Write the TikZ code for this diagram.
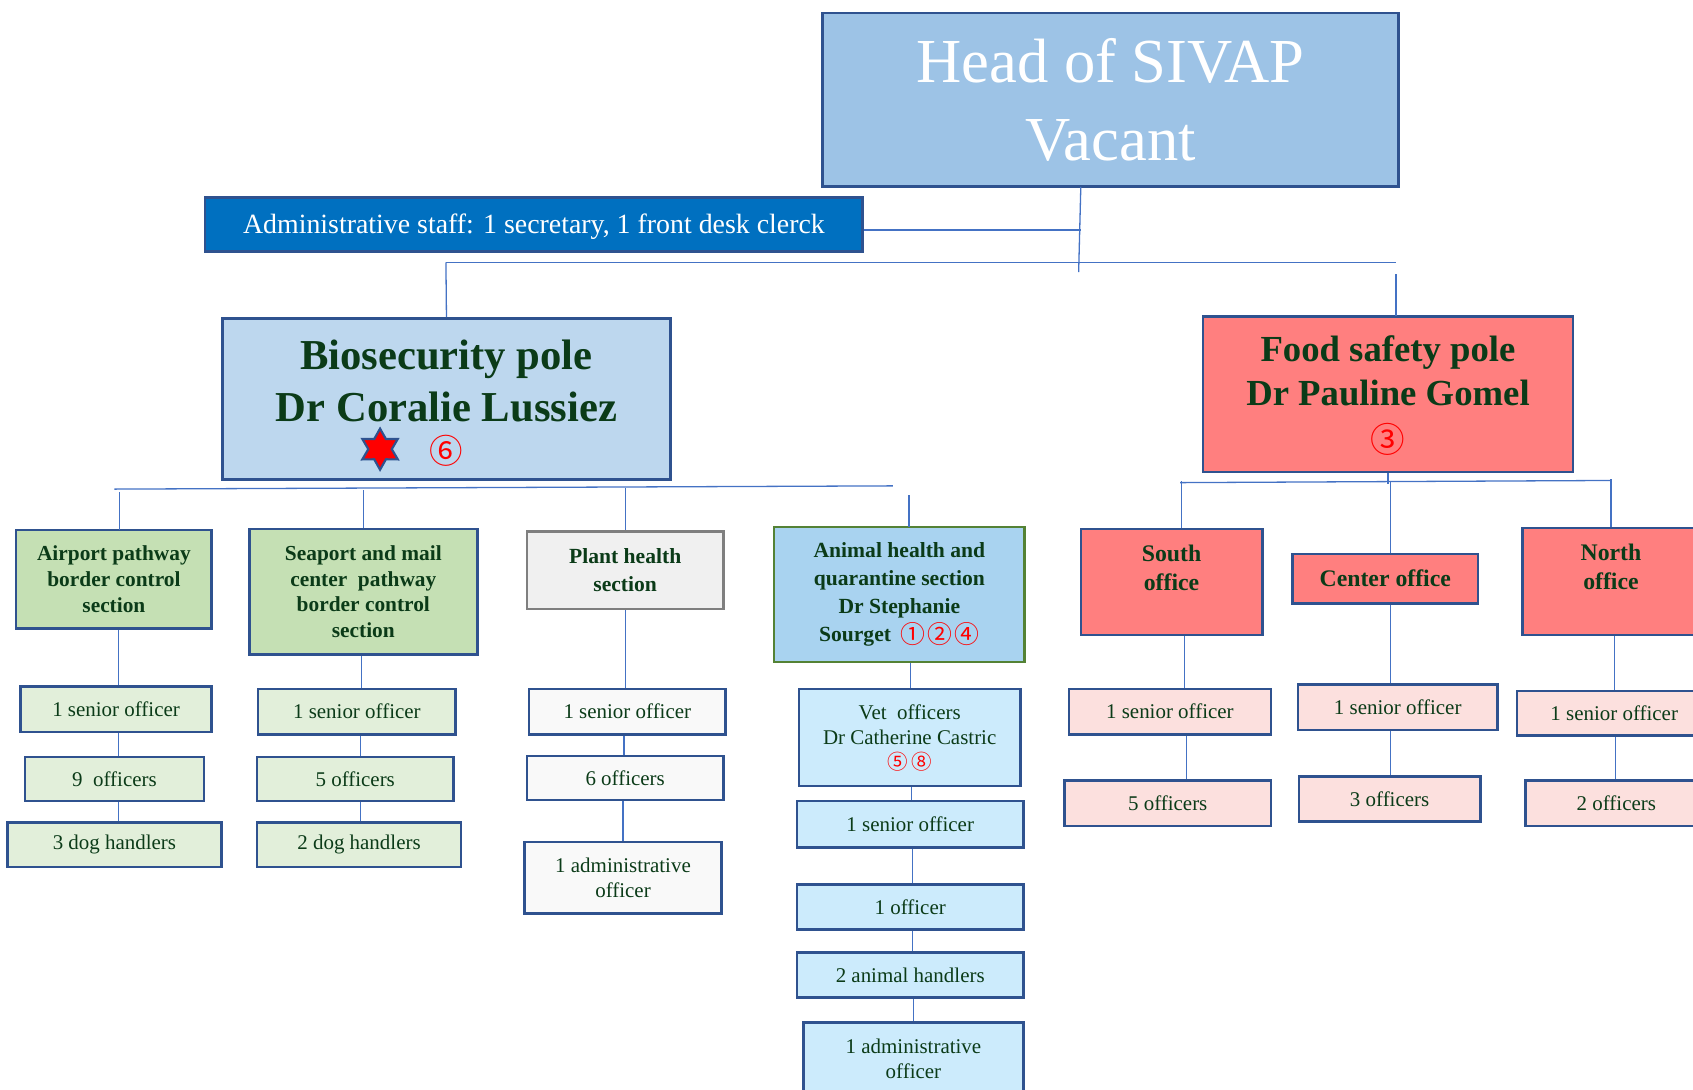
\documentclass[tikz,border=0pt]{standalone}
\usepackage{fontspec}
\setmainfont{Liberation Serif}
\newfontfamily\cjk{Noto Sans CJK SC}
\usetikzlibrary{shapes.geometric}

\definecolor{boxblue}{HTML}{2F528F}
\definecolor{linkblue}{HTML}{4472C4}
\definecolor{darkgreen}{HTML}{0B3B18}
\definecolor{headfill}{HTML}{9DC3E6}
\definecolor{adminfill}{HTML}{0070C0}
\definecolor{biofill}{HTML}{BDD7EE}
\definecolor{sectgreen}{HTML}{C5E0B4}
\definecolor{staffgreen}{HTML}{E2EFDA}
\definecolor{plantfill}{HTML}{F0F0F0}
\definecolor{plantline}{HTML}{7F7F7F}
\definecolor{staffwhite}{HTML}{F9F9F9}
\definecolor{animalfill}{HTML}{A9D3F0}
\definecolor{animalline}{HTML}{548235}
\definecolor{staffcyan}{HTML}{CCEBFC}
\definecolor{salmon}{HTML}{FF7F7F}
\definecolor{staffpink}{HTML}{FCE0DE}

% circled numbers: [lowering], size, digits
\newcommand{\circnum}[3][0pt]{\raisebox{-#1}[0pt][0pt]{\cjk\mdseries\fontsize{#2}{#2}\selectfont\color{red}#3}}

\begin{document}
\begin{tikzpicture}[x=0.5pt,y=-0.5pt,
  link/.style={draw=linkblue,line width=0.6pt},
  box/.style={draw=boxblue,line width=1.2pt,inner sep=0pt,align=center,text=darkgreen},
  headbox/.style={box,fill=headfill,text=white,font=\fontsize{29}{36}\selectfont},
  adminbox/.style={box,fill=adminfill,text=white,font=\fontsize{12.9}{15}\selectfont},
  polebox/.style={box,font=\fontsize{19.75}{24}\selectfont\bfseries},
  sectbox/.style={box,font=\fontsize{9.9}{11.9}\selectfont\bfseries},
  officebox/.style={box,fill=salmon,font=\fontsize{11}{13.5}\selectfont\bfseries},
  staffbox/.style={box,font=\fontsize{9.7}{11.5}\selectfont}
]
\useasboundingbox (0,0) rectangle (1568,1009.5);
\clip (0,0) rectangle (1568,1009.5);

% top
\node[headbox,minimum width=266.5pt,minimum height=80.5pt] (head) at (1028.5,92.5) {Head of SIVAP\\Vacant};
\node[adminbox,minimum width=304.5pt,minimum height=25pt,text depth=1pt] (admin) at (494.5,208) {Administrative staff: 1 secretary, 1 front desk clerck};
\coordinate (headLink) at (999,252);
\draw[link] (1001,173) -- (headLink);
\draw[link] (admin.east |- 0,213) -- (1001,213);
\draw[link] (413,243) -- (1293,243);

% poles
\node[polebox,fill=biofill,minimum width=207.5pt,minimum height=74.5pt] (bio) at (413.5,369.5) {Biosecurity pole\\Dr Coralie Lussiez\\[-7pt]\circnum[2.5pt]{15.5}{⑥}};
\node[star,star points=6,star point ratio=1.75,fill=red,draw=boxblue,line width=1pt,minimum size=19pt,inner sep=0pt] (bioStar) at (352,416) {};
\node[polebox,fill=salmon,font=\fontsize{17}{20.5}\selectfont\bfseries,minimum width=171.5pt,minimum height=72pt] (food) at (1285.5,365) {Food safety pole\\Dr Pauline Gomel\\[1pt]\circnum{16}{③}};
\draw[link] (bio.north) -- (413,243);
\draw[link] (1293,293) -- (1293,254);

% biosecurity sections
\draw[link] (106,453) -- (827,450);
\node[sectbox,fill=sectgreen,minimum width=90.5pt,minimum height=45.5pt] (airport) at (105.5,536.5) {Airport pathway\\border control\\section};
\node[sectbox,fill=sectgreen,minimum width=105.5pt,minimum height=58pt] (seaport) at (336.5,548) {Seaport and mail\\center\ \ pathway\\border control\\section};
\node[sectbox,fill=plantfill,draw=plantline,font=\fontsize{10}{13}\selectfont\bfseries,minimum width=91pt,minimum height=36pt] (plant) at (579,528) {Plant health\\section};
\node[sectbox,fill=animalfill,draw=animalline,font=\fontsize{10}{13}\selectfont\bfseries,minimum width=116pt,minimum height=62.5pt] (animal) at (833,550.5) {Animal health and\\quarantine section\\Dr Stephanie\\Sourget\ \,\circnum[1pt]{11.5}{①\kern1.2pt②\kern1.2pt④}};
\draw[link] (111,491) -- ++(0,-35);
\draw[link] (seaport.north) -- ++(0,-35);
\draw[link] (plant.north) -- ++(0,-39);
\draw[link] (842,488) -- ++(0,-30);

% airport staff
\node[staffbox,fill=staffgreen,minimum width=88.5pt,minimum height=21pt] (a1) at (107.5,657) {1 senior officer};
\node[staffbox,fill=staffgreen,minimum width=83pt,minimum height=20.5pt] (a2) at (106,721.5) {9\ \ officers};
\node[staffbox,fill=staffgreen,minimum width=99pt,minimum height=20.5pt] (a3) at (106,782.5) {3 dog handlers};
\draw[link] (a1.north -| 110,0) -- (airport.south -| 110,0);
\draw[link] (a2.north -| 110,0) -- (a1.south -| 110,0);
\draw[link] (a3.north -| 110,0) -- (a2.south -| 110,0);

% seaport staff
\node[staffbox,fill=staffgreen,minimum width=91.5pt,minimum height=21pt] (s1) at (330.5,659) {1 senior officer};
\node[staffbox,fill=staffgreen,minimum width=91pt,minimum height=20.5pt] (s2) at (329,721.5) {5 officers};
\node[staffbox,fill=staffgreen,minimum width=94.5pt,minimum height=20.5pt] (s3) at (332.5,782.5) {2 dog handlers};
\draw[link] (s1.north -| 335,0) -- (seaport.south -| 335,0);
\draw[link] (s2.north -| 334,0) -- (s1.south -| 334,0);
\draw[link] (s3.north -| 334,0) -- (s2.south -| 334,0);

% plant staff
\node[staffbox,fill=staffwhite,minimum width=91pt,minimum height=21pt] (p1) at (581,659) {1 senior officer};
\node[staffbox,fill=staffwhite,minimum width=91pt,minimum height=20.5pt] (p2) at (579,720.5) {6 officers};
\node[staffbox,fill=staffwhite,minimum width=91pt,minimum height=33pt] (p3) at (577,813) {1 administrative\\officer};
\draw[link] (p1.north -| 579,0) -- (plant.south -| 579,0);
\draw[link] (p2.north -| 578,0) -- (p1.south -| 578,0);
\draw[link] (p3.north -| 577,0) -- (p2.south -| 577,0);

% animal staff
\node[staffbox,fill=staffcyan,minimum width=102.5pt,minimum height=45pt] (v0) at (842.5,683) {Vet\ \ officers\\Dr Catherine Castric\\\circnum{9.5}{⑤\kern1.5pt⑧}};
\node[staffbox,fill=staffcyan,minimum width=105pt,minimum height=21.5pt] (v1) at (843,763.5) {1 senior officer};
\node[staffbox,fill=staffcyan,minimum width=105pt,minimum height=21pt] (v2) at (843,840) {1 officer};
\node[staffbox,fill=staffcyan,minimum width=105pt,minimum height=21pt] (v3) at (843,903) {2 animal handlers};
\node[staffbox,fill=staffcyan,minimum width=102pt,minimum height=33.5pt] (v4) at (846,980.5) {1 administrative\\officer};
\draw[link] (v0.north -| 843,0) -- (animal.south -| 843,0);
\draw[link] (v1.north -| 844,0) -- (v0.south -| 844,0);
\draw[link] (v2.north -| 845,0) -- (v1.south -| 845,0);
\draw[link] (v3.north -| 845,0) -- (v2.south -| 845,0);
\draw[link] (v4.north -| 846,0) -- (v3.south -| 846,0);

% food safety offices
\draw[link] (1093,447) -- (1492,445);
\draw[link] (food.south) -- ++(0,10);
\node[officebox,minimum width=84pt,minimum height=49pt] (south) at (1085,539) {South\\office\\~};
\node[officebox,minimum width=86pt,minimum height=23pt] (center) at (1283,536) {Center office};
\node[officebox,minimum width=82pt,minimum height=49.5pt] (north) at (1492,538.5) {North\\office\\~};
\draw[link] (south.north -| 1094,0) -- ++(0,-43);
\draw[link] (center.north -| 1288,0) -- ++(0,-66);
\draw[link] (north.north) -- ++(0,-44);

% office staff
\node[staffbox,fill=staffpink,minimum width=93.5pt,minimum height=21pt] (so1) at (1083.5,659) {1 senior officer};
\node[staffbox,fill=staffpink,minimum width=95.5pt,minimum height=21pt] (so2) at (1081.5,744) {5 officers};
\node[staffbox,fill=staffpink,minimum width=92.5pt,minimum height=21pt] (c1) at (1294.5,655) {1 senior officer};
\node[staffbox,fill=staffpink,minimum width=84pt,minimum height=21pt] (c2) at (1287,740) {3 officers};
\node[staffbox,fill=staffpink,minimum width=90pt,minimum height=20.5pt] (n1) at (1495,660.5) {1 senior officer};
\node[staffbox,fill=staffpink,minimum width=84pt,minimum height=21pt] (n2) at (1497,744) {2 officers};
\draw[link] (so1.north -| 1097,0) -- (south.south -| 1097,0);
\draw[link] (so2.north -| 1099,0) -- (so1.south -| 1099,0);
\draw[link] (c1.north -| 1288,0) -- (center.south -| 1288,0);
\draw[link] (c2.north -| 1288,0) -- (c1.south -| 1288,0);
\draw[link] (n1.north -| 1495,0) -- (north.south -| 1495,0);
\draw[link] (n2.north -| 1496,0) -- (n1.south -| 1496,0);
\end{tikzpicture}
\end{document}
